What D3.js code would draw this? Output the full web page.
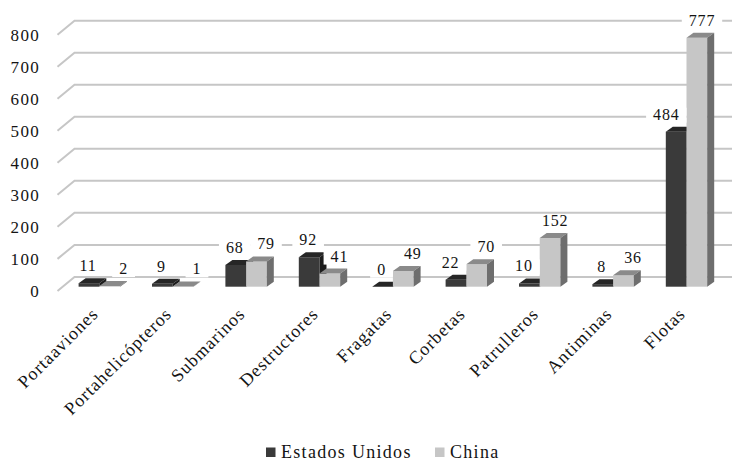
<!DOCTYPE html>
<html>
<head>
<meta charset="utf-8">
<script src="https://cdn.jsdelivr.net/npm/d3@7"></script>
<style>
  html, body { margin: 0; padding: 0; background: #fff; }
  svg { display: block; }
  text { font-family: "Liberation Serif", "Times New Roman", serif; fill: #141414; }
</style>
</head>
<body>
<svg id="chart" width="733" height="460"></svg>
<script>
const categories = ["Portaaviones", "Portahelicópteros", "Submarinos", "Destructores", "Fragatas", "Corbetas", "Patrulleros", "Antiminas", "Flotas"];
const seriesNames = ["Estados Unidos", "China"];
const usValues = [11, 9, 68, 92, 0, 22, 10, 8, 484];
const chinaValues = [2, 1, 79, 41, 49, 70, 152, 36, 777];
const yTicks = [0, 100, 200, 300, 400, 500, 600, 700, 800];

const W = 733, H = 460;
const svg = d3.select("#chart");

// depth projection (3D effect)
const wallDx = 17, wallDy = -14;
const frontFrac = 0.3;
const barDx = 7, barDy = -5;
const colors = {
  us:    { front: "#3a3a3a", top: "#262626", side: "#1c1c1c" },
  china: { front: "#c6c6c6", top: "#8a8a8a", side: "#6e6e6e" }
};

const y = d3.scaleLinear().domain([0, 800]).range([286.7, 30.5]);
const x = d3.scaleBand().domain(categories).range([62.6, 723.2])
  .paddingInner(0.436).paddingOuter(0.218);
const x1 = d3.scaleBand().domain(seriesNames).range([0, x.bandwidth()]).padding(0);

const frontX = 62.6 - wallDx * frontFrac;
const backX = frontX + wallDx;
const frontOff = -wallDy * frontFrac;
const backOff = wallDy * (1 - frontFrac);

// gridlines (side edge + back wall)
const grid = svg.append("g");
yTicks.forEach(t => {
  const yf = y(t) + frontOff, yb = y(t) + backOff;
  grid.append("path")
    .attr("d", `M${frontX},${yf}L${backX},${yb}L${W - 1},${yb}`)
    .attr("fill", "none").attr("stroke", "#c6c6c6").attr("stroke-width", 2);
});

// y axis labels
svg.append("g").selectAll("text").data(yTicks).join("text")
  .attr("x", 40).attr("y", d => y(d) + frontOff)
  .attr("dy", "0.35em")
  .attr("text-anchor", "end")
  .style("font-size", "17px").style("letter-spacing", "1.3px")
  .text(d => d);

// bars
function bar3d(g, bx, v, c) {
  const w = x1.bandwidth();
  const yv = y(v), y0 = y(0);
  g.append("rect").attr("x", bx).attr("y", yv).attr("width", w).attr("height", y0 - yv).attr("fill", c.front);
  g.append("path").attr("d", `M${bx},${yv}L${bx + barDx},${yv + barDy}L${bx + w + barDx},${yv + barDy}L${bx + w},${yv}Z`).attr("fill", c.top);
  g.append("path").attr("d", `M${bx + w},${yv}L${bx + w + barDx},${yv + barDy}L${bx + w + barDx},${y0 + barDy}L${bx + w},${y0}Z`).attr("fill", c.side);
}

const barsG = svg.append("g");
categories.forEach((cat, i) => {
  const g = barsG.append("g");
  bar3d(g, x(cat) + x1(seriesNames[0]), usValues[i], colors.us);
  bar3d(g, x(cat) + x1(seriesNames[1]), chinaValues[i], colors.china);
});

// data labels with white background
const LBL_FS = "16px", LBL_LS = "0.8px";
const labelsG = svg.append("g");
function addLabel(txt, cx, baseline) {
  const g = labelsG.append("g");
  const rect = g.append("rect").attr("fill", "#fff");
  const t = g.append("text").attr("x", cx).attr("y", baseline)
    .attr("text-anchor", "middle")
    .style("font-size", LBL_FS).style("letter-spacing", LBL_LS)
    .text(txt);
  const bb = t.node().getBBox();
  rect.attr("x", bb.x - 7).attr("y", bb.y + 2).attr("width", bb.width + 14).attr("height", bb.height - 2);
  return t;
}
function measure(txt) {
  const t = svg.append("text").style("font-size", LBL_FS).style("letter-spacing", LBL_LS).text(txt);
  const w = t.node().getBBox().width;
  t.remove();
  return w;
}
categories.forEach((cat, i) => {
  const bw = x1.bandwidth();
  const c = x(cat) + bw;
  const us = usValues[i], cn = chinaValues[i];
  const wu = measure(String(us));
  let cu = x(cat) + bw / 2 - 1;
  const baseU = y(us) + barDy - 7;
  if (cu + wu / 2 > c - 4 && y(cn) < baseU) cu = c - 7 - wu / 2;
  addLabel(String(us), cu, baseU);
  const wc = measure(String(cn));
  const cc = c + bw + barDx + 1 - wc / 2;
  addLabel(String(cn), cc, y(cn) + barDy - 7);
});

// category labels
svg.append("g").selectAll("text").data(categories).join("text")
  .attr("transform", d => `translate(${x(d) + x.bandwidth() / 2},315) rotate(-45)`)
  .attr("text-anchor", "end")
  .style("font-size", "18px").style("letter-spacing", "1px")
  .text(d => d);

// legend
const legend = svg.append("g");
const legendItems = [
  { name: seriesNames[0], color: colors.us.front, x: 266 },
  { name: seriesNames[1], color: colors.china.front, x: 435 }
];
legendItems.forEach(it => {
  legend.append("rect").attr("x", it.x).attr("y", 447.5).attr("width", 9.5).attr("height", 9.5).attr("fill", it.color);
  legend.append("text").attr("x", it.x + 15).attr("y", 457.5)
    .style("font-size", "18px").style("letter-spacing", "1.3px")
    .text(it.name);
});
</script>
</body>
</html>
